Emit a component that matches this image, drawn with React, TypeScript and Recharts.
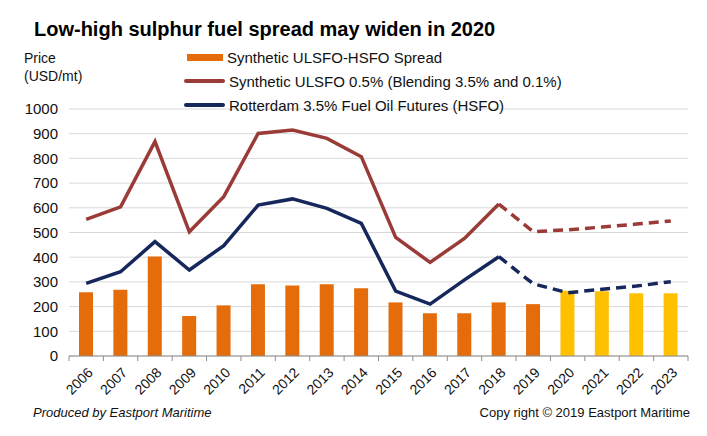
import { Bar, CartesianGrid, Cell, ComposedChart, Line, XAxis, YAxis } from 'recharts'

const years = ['2006', '2007', '2008', '2009', '2010', '2011', '2012', '2013', '2014', '2015', '2016', '2017', '2018', '2019', '2020', '2021', '2022', '2023']
const spread = [258, 268, 403, 162, 205, 290, 285, 290, 274, 217, 173, 173, 217, 210, 264, 262, 254, 254]
const ulsfo = [553, 604, 868, 503, 645, 901, 915, 881, 807, 480, 379, 476, 615, 503, 511, 522, 534, 547]
const hsfo = [294, 341, 463, 348, 447, 611, 636, 598, 537, 263, 210, 308, 402, 292, 256, 270, 283, 301]
const yTicks = [0, 100, 200, 300, 400, 500, 600, 700, 800, 900, 1000]

const DASH_FROM = '2018' // lines turn dashed after this year
const FORECAST_FROM = '2020' // bars turn yellow from this year

const W = 707
const H = 436
const PLOT_LEFT = 69
const PLOT_RIGHT = 688
const PLOT_TOP = 109
const PLOT_BOTTOM = 356
const BAND = (PLOT_RIGHT - PLOT_LEFT) / years.length

const ORANGE = '#E46C0A'
const YELLOW = '#FFC000'
const RED = '#9A3B38'
const NAVY = '#16275C'
const FONT = '"Liberation Sans", Arial, sans-serif'

const dashIdx = years.indexOf(DASH_FROM)
const data = years.map((year, i) => ({
  year,
  spread: spread[i],
  ulsfoSolid: i <= dashIdx ? ulsfo[i] : null,
  ulsfoDash: i >= dashIdx ? ulsfo[i] : null,
  hsfoSolid: i <= dashIdx ? hsfo[i] : null,
  hsfoDash: i >= dashIdx ? hsfo[i] : null,
}))

function YearTick(props: any) {
  const { x, y, payload, index } = props
  const last = index === years.length - 1
  return (
    <g>
      <line x1={x - BAND / 2} x2={x - BAND / 2} y1={PLOT_BOTTOM} y2={PLOT_BOTTOM + 5} stroke="#8c8c8c" />
      {last && <line x1={x + BAND / 2} x2={x + BAND / 2} y1={PLOT_BOTTOM} y2={PLOT_BOTTOM + 5} stroke="#8c8c8c" />}
      <text
        x={x + 4}
        y={y + 6}
        transform={`rotate(-45, ${x + 4}, ${y + 6})`}
        textAnchor="end"
        dominantBaseline="central"
        fontSize={14}
        fontFamily={FONT}
        fill="#111"
      >
        {payload.value}
      </text>
    </g>
  )
}

function LegendRow({ top, color, text, kind }: { top: number; color: string; text: string; kind: 'bar' | 'line' }) {
  return (
    <div style={{ position: 'absolute', left: 184, top: top - 10, height: 20, display: 'flex', alignItems: 'center' }}>
      <div
        style={{
          width: kind === 'bar' ? 36 : 41,
          height: kind === 'bar' ? 7 : 4,
          marginLeft: kind === 'bar' ? 3 : 0,
          background: color,
          borderRadius: kind === 'line' ? 2 : 0,
        }}
      />
      <span style={{ marginLeft: 4, fontSize: 15, color: '#111', whiteSpace: 'nowrap' }}>{text}</span>
    </div>
  )
}

export default function App() {
  return (
    <div style={{ position: 'absolute', left: 0, top: 0, width: W, height: H, background: '#fff', fontFamily: FONT }}>
      <div style={{ position: 'absolute', left: 34, top: 18, fontSize: 20, fontWeight: 'bold', color: '#000', whiteSpace: 'nowrap' }}>
        Low-high sulphur fuel spread may widen in 2020
      </div>
      <div style={{ position: 'absolute', left: 24, top: 49, fontSize: 14, lineHeight: '18px', color: '#111' }}>
        Price
        <br />
        (USD/mt)
      </div>

      <ComposedChart
        width={W}
        height={H}
        data={data}
        margin={{ top: PLOT_TOP, right: W - PLOT_RIGHT, bottom: 20, left: 0 }}
        barCategoryGap={0}
      >
        <CartesianGrid horizontal vertical={false} stroke="#D9D9D9" />
        <XAxis
          dataKey="year"
          interval={0}
          height={H - PLOT_BOTTOM - 20}
          axisLine={{ stroke: '#8c8c8c' }}
          tickLine={false}
          tick={(p: any) => <YearTick {...p} />}
        />
        <YAxis
          width={PLOT_LEFT}
          domain={[0, 1000]}
          ticks={yTicks}
          interval={0}
          axisLine={false}
          tickLine={false}
          tickMargin={5}
          tick={{ fontSize: 15, fill: '#111', fontFamily: FONT }}
        />
        <Bar dataKey="spread" barSize={14} isAnimationActive={false}>
          {years.map((y) => (
            <Cell key={y} fill={y >= FORECAST_FROM ? YELLOW : ORANGE} />
          ))}
        </Bar>
        <Line dataKey="ulsfoSolid" stroke={RED} strokeWidth={3.5} dot={false} isAnimationActive={false} type="linear" />
        <Line dataKey="ulsfoDash" stroke={RED} strokeWidth={3.5} strokeDasharray="10 6" dot={false} isAnimationActive={false} type="linear" />
        <Line dataKey="hsfoSolid" stroke={NAVY} strokeWidth={3.5} dot={false} isAnimationActive={false} type="linear" />
        <Line dataKey="hsfoDash" stroke={NAVY} strokeWidth={3.5} strokeDasharray="10 6" dot={false} isAnimationActive={false} type="linear" />
      </ComposedChart>

      <LegendRow top={57} color={ORANGE} text="Synthetic ULSFO-HSFO Spread" kind="bar" />
      <LegendRow top={81} color={RED} text="Synthetic ULSFO 0.5% (Blending 3.5% and 0.1%)" kind="line" />
      <LegendRow top={105} color={NAVY} text="Rotterdam 3.5% Fuel Oil Futures (HSFO)" kind="line" />

      <div style={{ position: 'absolute', left: 33, top: 405, fontSize: 13, fontStyle: 'italic', color: '#111', whiteSpace: 'nowrap' }}>
        Produced by Eastport Maritime
      </div>
      <div style={{ position: 'absolute', right: W - 690, top: 405, fontSize: 13, color: '#111', whiteSpace: 'nowrap' }}>
        Copy right © 2019 Eastport Maritime
      </div>
    </div>
  )
}
